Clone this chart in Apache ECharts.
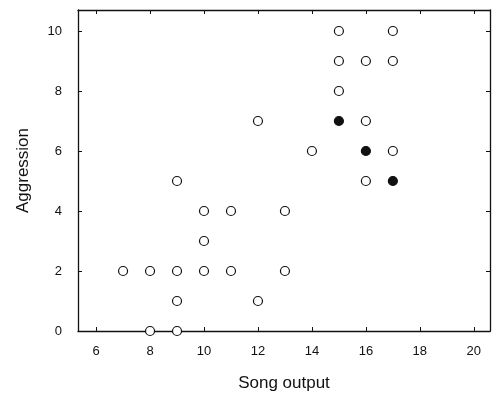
<!DOCTYPE html>
<html>
<head>
<meta charset="utf-8">
<script src="https://cdn.jsdelivr.net/npm/echarts@6/dist/echarts.min.js"></script>
<style>
  html, body { margin: 0; padding: 0; background: #fff; }
  #chart { width: 492px; height: 393px; }
</style>
</head>
<body>
<div id="chart"></div>
<script>
// song output vs aggression, open = normal males, filled = the three marked ones
const openSong = [7, 8, 8, 9, 9, 9, 9, 10, 10, 10, 11, 11, 12, 12, 13, 13, 14, 15, 15, 15, 16, 16, 16, 17, 17, 17];
const openAggr = [2, 2, 0, 5, 2, 1, 0, 4, 3, 2, 4, 2, 7, 1, 4, 2, 6, 10, 9, 8, 9, 7, 5, 10, 9, 6];
const filledSong = [15, 16, 17];
const filledAggr = [7, 6, 5];
const xTicks = [6, 8, 10, 12, 14, 16, 18, 20];
const yTicks = [0, 2, 4, 6, 8, 10];

const pairs = (xs, ys) => xs.map((x, i) => [x, ys[i]]);

const font = 'Liberation Sans';
const ink = '#111';

const frameAxis = (extra) => Object.assign({
  type: 'value',
  axisLine: { show: true, onZero: false, lineStyle: { color: ink, width: 1.3 } },
  axisTick: { show: true, inside: true, length: 4, lineStyle: { color: ink } },
  splitLine: { show: false }
}, extra);

const chart = echarts.init(document.getElementById('chart'));
chart.setOption({
  animation: false,
  textStyle: { fontFamily: font, color: ink },
  grid: { left: 78, right: 2, top: 10, bottom: 62, outerBoundsMode: 'none' },
  xAxis: [
    frameAxis({
      position: 'bottom', min: 5.33, max: 20.6,
      name: 'Song output', nameLocation: 'middle', nameGap: 44,
      nameTextStyle: { fontFamily: font, fontSize: 17, color: ink },
      axisTick: { show: true, inside: true, length: 4, customValues: xTicks, lineStyle: { color: ink } },
      axisLabel: { customValues: xTicks, fontSize: 13, color: ink, margin: 14 }
    }),
    frameAxis({
      position: 'top', min: 5.33, max: 20.6,
      axisTick: { show: true, inside: true, length: 4, customValues: xTicks, lineStyle: { color: ink } },
      axisLabel: { show: false }
    })
  ],
  yAxis: [
    frameAxis({
      position: 'left', min: 0, max: 10.7,
      name: 'Aggression', nameLocation: 'middle', nameGap: 46, nameRotate: 90,
      nameTextStyle: { fontFamily: font, fontSize: 17, color: ink },
      axisTick: { show: true, inside: true, length: 4, customValues: yTicks, lineStyle: { color: ink } },
      axisLabel: { customValues: yTicks, fontSize: 13, color: ink, margin: 16 }
    }),
    frameAxis({
      position: 'right', min: 0, max: 10.7,
      axisTick: { show: true, inside: true, length: 4, customValues: yTicks, lineStyle: { color: ink } },
      axisLabel: { show: false }
    })
  ],
  series: [
    {
      type: 'scatter',
      data: pairs(openSong, openAggr),
      symbol: 'circle',
      symbolSize: 9,
      itemStyle: { color: '#fff', borderColor: ink, borderWidth: 1.2, opacity: 1 },
      z: 3
    },
    {
      type: 'scatter',
      data: pairs(filledSong, filledAggr),
      symbol: 'circle',
      symbolSize: 9,
      itemStyle: { color: ink, borderColor: ink, borderWidth: 1.2, opacity: 1 },
      z: 4
    }
  ]
});
</script>
</body>
</html>
